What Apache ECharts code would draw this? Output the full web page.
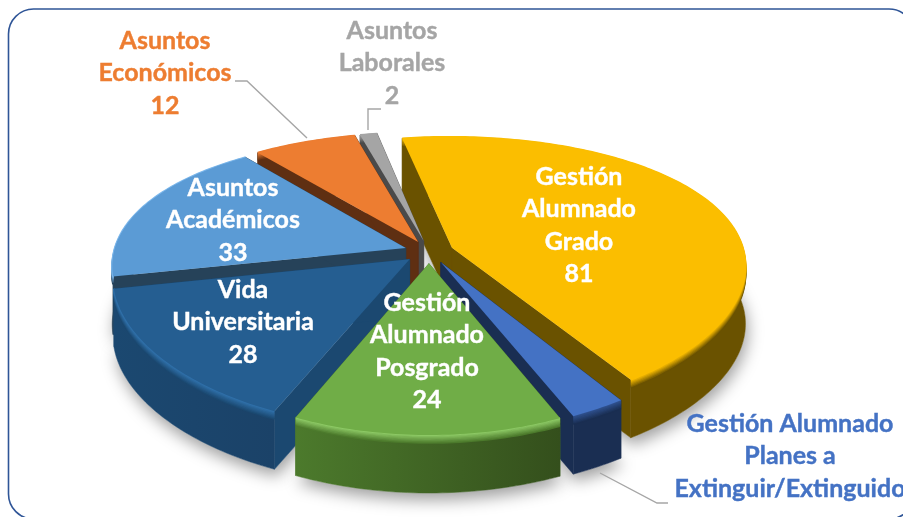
<!DOCTYPE html>
<html>
<head>
<meta charset="utf-8">
<style>html,body{margin:0;padding:0;background:#fff}#c{width:903px;height:517px}</style>
<script src="https://cdn.jsdelivr.net/npm/echarts@6/dist/echarts.min.js"></script>
</head>
<body>
<div id="c"></div>
<script>
const categories = ['Gestión Alumnado Grado','Gestión Alumnado Planes a Extinguir/Extinguido','Gestión Alumnado Posgrado','Vida Universitaria','Asuntos Académicos','Asuntos Económicos','Asuntos Laborales'];
const values = [81, 5, 24, 28, 33, 12, 2];
const topColors = ['#FBBE00','#4472C4','#70AD47','#255E91','#5B9BD5','#ED7D31','#A5A5A5'];
const wallColors = ['#6A5200','#1A2E52','#4C7A2C','#1B4870','#264259','#5F2F12','#4A4A4A'];
const wallColorsEnd = ['#6A5200','#1A2E52','#344F1C','#1B4268','#264259','#5F2F12','#4A4A4A'];
const bevelColors = ['#FBBE00','#2E4F8C','#8CC864','#2F6FA8','#7DB8EC','#ED7D31','#A5A5A5'];
const drawOrder = [0, 6, 5, 4, 3, 1, 2];

// projection settings
const CX = 429, CY = 252, RX = 292, RY = 133.6, PERSP_X = 0.124, PERSP_Y = 0.1916, EXPLODE = 0.085, HEIGHT = 58, START = -10.5;

const total = values.reduce((a, b) => a + b, 0);
const spans = [];
let acc = START;
values.forEach(v => { const a = v / total * 360; spans.push([acc, acc + a]); acc += a; });

function rad(d) { return d * Math.PI / 180; }
function proj(u, v, drop) {
  return [CX + RX * u / (1 - PERSP_X * v), CY + RY * v / (1 - PERSP_Y * v) + (drop || 0)];
}
function sliceGeom(i) {
  const [a0, a1] = spans[i];
  const mid = rad((a0 + a1) / 2);
  const ou = EXPLODE * Math.sin(mid), ov = -EXPLODE * Math.cos(mid);
  const rim = [];
  const n = Math.max(3, Math.ceil(a1 - a0));
  for (let k = 0; k <= n; k++) {
    const t = rad(a0 + (a1 - a0) * k / n);
    rim.push([ou + Math.sin(t), ov - Math.cos(t)]);
  }
  return { apex: [ou, ov], rim };
}
function at(list, drop) { return list.map(p => proj(p[0], p[1], drop)); }
function mix(c1, c2, t) {
  const p = c => [1, 3, 5].map(j => parseInt(c.substr(j, 2), 16));
  const a = p(c1), b = p(c2);
  return 'rgb(' + a.map((x, j) => Math.round(x + (b[j] - x) * t)).join(',') + ')';
}

function renderShadow(params, api) {
  const g = sliceGeom(api.value(0));
  const pts = at([g.apex].concat(g.rim), HEIGHT);
  return {
    type: 'polygon',
    shape: { points: pts },
    style: { fill: '#fff', shadowBlur: 16, shadowColor: 'rgba(0,0,0,0.38)', shadowOffsetY: 7, shadowOffsetX: 2 }
  };
}

function renderSlice(params, api) {
  const i = api.value(0);
  const g = sliceGeom(i);
  const children = [];
  const top = at(g.rim, 0), bot = at(g.rim, HEIGHT);
  const a0 = proj(g.apex[0], g.apex[1], 0), a1 = proj(g.apex[0], g.apex[1], HEIGHT);
  const wall = wallColors[i];
  const poly = (points, fill) => ({ type: 'polygon', shape: { points }, style: { fill, stroke: fill, lineWidth: 0.5 } });
  // radial inner walls
  children.push(poly([a0, top[0], bot[0], a1], wall));
  children.push(poly([a0, top[top.length - 1], bot[bot.length - 1], a1], wall));
  // outer wall
  children.push(poly(top.concat(bot.slice().reverse()), {
    type: 'linear', x: 0, y: 0, x2: 1, y2: 0,
    colorStops: [{ offset: 0, color: wallColors[i] }, { offset: 1, color: wallColorsEnd[i] }]
  }));
  // bevel at the rim
  const steps = 6;
  for (let k = steps; k >= 0; k--) {
    children.push({
      type: 'polyline', shape: { points: top.map(p => [p[0], p[1] + k * 1.3]) },
      style: { fill: null, stroke: mix(bevelColors[i], wall, k / steps), lineWidth: 2 }
    });
  }
  // top face
  children.push({
    type: 'polygon', shape: { points: [a0].concat(top) },
    style: { fill: topColors[i] }
  });
  return { type: 'group', children };
}

const labelLines = [
  { lines: ['Gestión', 'Alumnado', 'Grado', '81'], x: 579, y: 177, color: '#FFFFFF' },
  { lines: ['Gestión Alumnado', 'Planes a', 'Extinguir/Extinguido'], x: 790, y: 424, color: '#4472C4' },
  { lines: ['Gestión', 'Alumnado', 'Posgrado', '24'], x: 427, y: 303, color: '#FFFFFF' },
  { lines: ['Vida', 'Universitaria', '28'], x: 243, y: 290, color: '#FFFFFF' },
  { lines: ['Asuntos', 'Académicos', '33'], x: 233, y: 188, color: '#FFFFFF' },
  { lines: ['Asuntos', 'Económicos', '12'], x: 165, y: 41, color: '#ED7D31' },
  { lines: ['Asuntos', 'Laborales', '2'], x: 392, y: 31, color: '#A5A5A5' }
];
const graphics = [
  { type: 'rect', z: 0, shape: { x: 8.5, y: 9, width: 905.5, height: 510, r: 25 },
    style: { fill: 'rgba(255,255,255,0)', stroke: '#2F5597', lineWidth: 1.6 } },
  { type: 'polyline', z: 20, shape: { points: [[235, 81], [247, 81], [307, 138]] }, style: { fill: null, stroke: '#A6A6A6', lineWidth: 1.4 } },
  { type: 'polyline', z: 20, shape: { points: [[381, 109], [368, 109], [368, 130]] }, style: { fill: null, stroke: '#A6A6A6', lineWidth: 1.4 } },
  { type: 'polyline', z: 20, shape: { points: [[600, 473], [657, 503], [668, 503]] }, style: { fill: null, stroke: '#A6A6A6', lineWidth: 1.4 } }
];
labelLines.forEach(l => {
  l.lines.forEach((t, k) => {
    graphics.push({
      type: 'text', z: 30, x: l.x, y: l.y + k * 32.4,
      style: { text: t, fill: l.color, stroke: l.color, lineWidth: 0.4, font: 'bold 25px Lato, sans-serif', align: 'center', verticalAlign: 'middle' }
    });
  });
});

const chart = echarts.init(document.getElementById('c'), null, { renderer: 'canvas' });
const rows = drawOrder.map(i => [i, values[i], categories[i]]);
chart.setOption({
  animation: false,
  backgroundColor: '#fff',
  graphic: graphics,
  series: [
    { type: 'custom', coordinateSystem: 'none', silent: true, z: 2, renderItem: renderShadow, data: rows },
    { type: 'custom', coordinateSystem: 'none', silent: true, z: 3, renderItem: renderSlice, data: rows }
  ]
});
</script>
</body>
</html>
